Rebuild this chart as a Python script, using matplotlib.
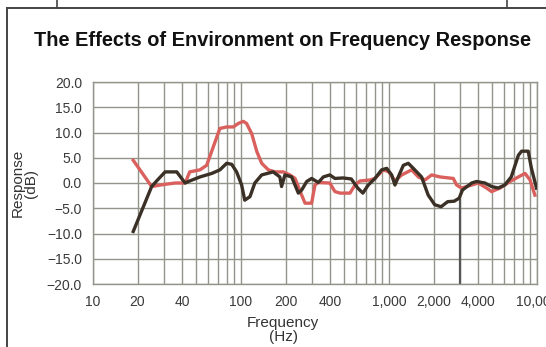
import matplotlib.pyplot as plt
import numpy as np
from matplotlib.ticker import LogLocator, NullFormatter
from matplotlib.lines import Line2D

plt.rcParams['font.family'] = ['Liberation Sans', 'DejaVu Sans']

# frequency response in two environments
freq_red = [18.7, 24.9, 30, 36, 42, 45, 52.8, 58.6, 72, 80, 88.7, 96, 103.8, 109,
            118, 128, 138, 153, 170, 193, 214, 232, 257, 271, 300, 316, 333, 398,
            431, 467, 545, 589, 637, 744, 804, 915, 1000, 1097, 1219, 1422, 1578,
            1750, 1941, 2211, 2718, 2864, 3097, 3620, 4009, 4563, 4933, 5623,
            6573, 7485, 8300, 8975, 9680]
db_red = [4.5, -0.7, -0.3, 0.0, 0.0, 2.2, 2.6, 3.5, 10.8, 11.1, 11.1, 11.8, 12.2, 11.8,
          9.8, 6.2, 3.9, 2.6, 2.2, 2.2, 1.6, 0.9, -2.4, -4.0, -4.0, -0.4, 0.1, 0.0,
          -1.7, -2.0, -2.0, -0.4, 0.4, 0.6, 0.9, 2.6, 2.2, 0.4, 1.6, 2.6, 1.2,
          0.6, 1.6, 1.2, 0.9, -0.4, -1.0, -0.4, 0.0, -1.0, -1.7, -1.0,
          0.3, 1.2, 1.9, 0.6, -2.4]

freq_black = [18.7, 24.9, 26.9, 30.7, 36.8, 41.9, 45, 52.8, 63.5, 72, 80, 86.5, 93.4,
              101, 106, 115, 124, 138, 165, 183, 188, 198, 220, 244, 257, 278,
              300, 333, 360, 398, 431, 489, 556, 615, 666, 724, 804, 891, 965,
              1042, 1097, 1155, 1250, 1350, 1460, 1660, 1840, 2037, 2250, 2490,
              2760, 2980, 3135, 3620, 3905, 4443, 4933, 5465, 6050, 6700, 7485,
              7870, 8720, 9170, 9920]
db_black = [-9.6, -0.7, 0.4, 2.2, 2.2, 0.0, 0.4, 1.2, 1.9, 2.6, 3.9, 3.7, 2.2,
            -0.4, -3.4, -2.7, 0.0, 1.6, 2.2, 1.2, -0.7, 1.6, 1.2, -2.0, -1.4, 0.3,
            0.9, 0.1, 1.2, 1.6, 0.9, 1.0, 0.8, -1.0, -2.0, -0.4, 0.9, 2.6, 2.9,
            1.6, -0.4, 1.2, 3.5, 3.9, 2.9, 1.2, -2.4, -4.3, -4.7, -3.7,
            -3.6, -3.0, -1.4, 0.0, 0.3, 0.0, -0.7, -1.0, -0.4, 1.2, 5.5,
            6.3, 6.3, 2.9, -1.0]

x_labels = [10, 20, 40, 100, 200, 400, 1000, 2000, 4000, 10000]
y_ticks = [20, 15, 10, 5, 0, -5, -10, -15, -20]

fig = plt.figure(figsize=(5.46, 3.47), dpi=100)
ax = fig.add_axes([93 / 546, 1 - 284 / 347, 444 / 546, 202 / 347])

grid_col = '#93958a'
ax.set_xscale('log')
ax.set_xlim(10, 10000)
ax.set_ylim(-20, 20)
ax.set_xticks(x_labels)
ax.set_xticklabels([f'{v:,}' for v in x_labels])
ax.xaxis.set_minor_locator(LogLocator(base=10, subs=np.arange(1, 10)))
ax.xaxis.set_minor_formatter(NullFormatter())
ax.set_yticks(y_ticks)
ax.set_yticklabels([f'{v:.1f}'.replace('-', '\u2212') for v in y_ticks])
ax.grid(which='both', axis='x', color=grid_col, lw=1.0)
ax.grid(which='major', axis='y', color=grid_col, lw=1.0)
ax.tick_params(which='both', length=0, labelsize=10, colors='#3a3a3a', pad=8)
for s in ax.spines.values():
    s.set_color(grid_col)
    s.set_linewidth(1.0)

# dark grid segment at 3 kHz
ax.vlines(3000, -20, -3.2, color='#555555', lw=1.6, zorder=2)

ax.plot(freq_red, db_red, color='#d9605c', lw=2.4, solid_joinstyle='round', zorder=3)
ax.plot(freq_black, db_black, color='#3a3026', lw=2.4, solid_joinstyle='round', zorder=4)

ax.set_xlabel('Frequency\n(Hz)', fontsize=11, color='#333333', linespacing=1.05)
ax.xaxis.set_label_coords((283 - 93) / 444, -(330 - 284) / 202 - 0.0)
ax.xaxis.label.set_va('center')
ax.set_ylabel('Response\n(dB)', fontsize=11, color='#333333', labelpad=6, linespacing=1.0)

fig.text(282 / 546, 1 - 40 / 347, 'The Effects of Environment on Frequency Response',
         ha='center', va='center', fontsize=14.4, fontweight='bold', color='#111111')

# frame of the original figure box
fc = '#444444'
fig.add_artist(Line2D([7 / 546, 7 / 546], [0, 1 - 8 / 347], color=fc, lw=1.4))
fig.add_artist(Line2D([7 / 546, 1], [1 - 8 / 347, 1 - 8 / 347], color=fc, lw=1.4))
fig.add_artist(Line2D([57 / 546, 57 / 546], [1 - 8 / 347, 1], color=fc, lw=1.2))
fig.add_artist(Line2D([507 / 546, 507 / 546], [1 - 8 / 347, 1], color=fc, lw=1.2))

fig.savefig('out.png', dpi=100)
